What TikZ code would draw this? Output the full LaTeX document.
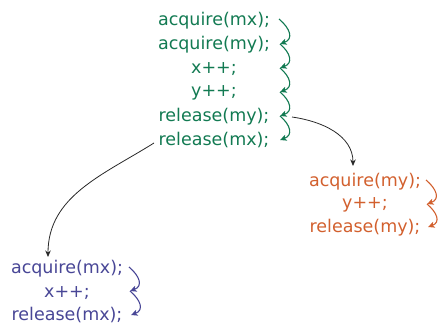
\documentclass[tikz,border=0pt]{standalone}
\usepackage{fontspec}
\setmainfont{DejaVu Sans}
\usetikzlibrary{arrows.meta}
\definecolor{cgreen}{RGB}{18,122,82}
\definecolor{corange}{RGB}{210,96,46}
\definecolor{cpurple}{RGB}{72,70,150}
\definecolor{cblack}{RGB}{40,40,40}
\tikzset{
  code/.style={font=\fontsize{17.5}{20}\selectfont, inner sep=0pt, anchor=center},
  curl/.style={-{Stealth[length=6.5pt,width=6pt,inset=1.5pt]}, line width=1.1pt, out=-40, in=20, looseness=1.5},
  link/.style={-{Stealth[length=6.5pt,width=5.5pt]}, line width=0.8pt, cblack},
}
\begin{document}
\begin{tikzpicture}[x=1pt,y=1pt]
\useasboundingbox (0,0) rectangle (440,-324);
% green block
\begin{scope}[cgreen]
\node[code,text=cgreen] (g1) at (214,-21) {acquire(mx);};
\node[code,text=cgreen] (g2) at (214,-45) {acquire(my);};
\node[code,text=cgreen] (g3) at (214,-69) {x++;};
\node[code,text=cgreen] (g4) at (214,-93) {y++;};
\node[code,text=cgreen] (g5) at (214,-117) {release(my);};
\node[code,text=cgreen] (g6) at (214,-140) {release(mx);};
\coordinate (ga1) at (279,-19);
\coordinate (ga2) at (280,-44);
\coordinate (ga3) at (280,-68);
\coordinate (ga4) at (280,-92);
\coordinate (ga5) at (280,-116);
\coordinate (ga6) at (280,-140);
\draw[curl] (ga1) to (ga2);
\draw[curl] (ga2) to (ga3);
\draw[curl] (ga3) to (ga4);
\draw[curl] (ga4) to (ga5);
\draw[curl] (ga5) to (ga6);
\end{scope}
% orange block
\begin{scope}[corange]
\node[code,text=corange] (o1) at (365,-182) {acquire(my);};
\node[code,text=corange] (o2) at (365,-205) {y++;};
\node[code,text=corange] (o3) at (365,-228) {release(my);};
\coordinate (oa1) at (426,-180);
\coordinate (oa2) at (427,-204);
\coordinate (oa3) at (428,-227);
\draw[curl] (oa1) to (oa2);
\draw[curl] (oa2) to (oa3);
\end{scope}
% purple block
\begin{scope}[cpurple]
\node[code,text=cpurple] (p1) at (67,-269) {acquire(mx);};
\node[code,text=cpurple] (p2) at (67,-293) {x++;};
\node[code,text=cpurple] (p3) at (67,-315) {release(mx);};
\coordinate (pa1) at (129,-267);
\coordinate (pa2) at (130,-291);
\coordinate (pa3) at (131,-315);
\draw[curl] (pa1) to (pa2);
\draw[curl] (pa2) to (pa3);
\end{scope}
% black links
\coordinate (ls1) at (292,-117);
\coordinate (ls2) at (154,-143);
\coordinate (le1) at (353,-166);
\coordinate (le2) at (48,-257);
\draw[link] (ls1) to[out=-8,in=90] (le1);
\draw[link] (ls2) to[out=212,in=90] (le2);
\end{tikzpicture}
\end{document}
